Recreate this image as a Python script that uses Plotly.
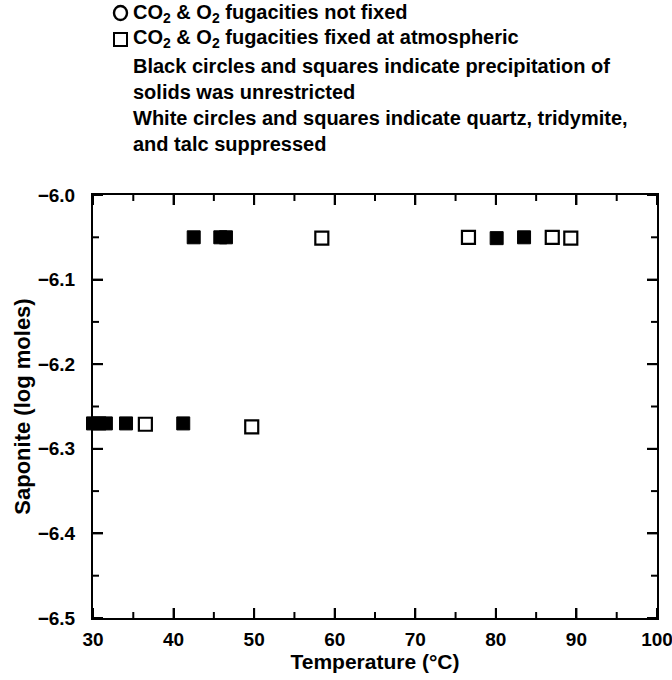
import plotly.graph_objects as go

# Saponite formed vs. temperature
filled_temp = [30.0, 30.8, 31.6, 34.1, 41.2, 42.5, 45.8, 46.5, 80.1, 83.5]
filled_sap = [-6.27, -6.27, -6.27, -6.27, -6.27, -6.05, -6.05, -6.05, -6.051, -6.05]
open_temp = [36.5, 49.7, 58.4, 76.6, 87.0, 89.3]
open_sap = [-6.271, -6.274, -6.051, -6.05, -6.05, -6.051]

x_ticks = [30, 40, 50, 60, 70, 80, 90, 100]
x_tick_text = ["30", "40", "50", "60", "70", "80", "90", "100"]
y_ticks = [-6.0, -6.1, -6.2, -6.3, -6.4, -6.5]
y_tick_text = ["\u22126.0", "\u22126.1", "\u22126.2", "\u22126.3", "\u22126.4", "\u22126.5"]

legend_lines = [
    "CO<sub>2</sub> & O<sub>2</sub> fugacities not fixed",
    "CO<sub>2</sub> & O<sub>2</sub> fugacities fixed at atmospheric",
    "Black circles and squares indicate precipitation of",
    "solids was unrestricted",
    "White circles and squares indicate quartz, tridymite,",
    "and talc suppressed",
]

FONT = "Liberation Sans, Arial, Helvetica, sans-serif"
L, R, T, B = 93, 15, 195, 62
W, H = 672, 680

fig = go.Figure(layout=dict(template="none"))
fig.add_trace(go.Scatter(
    x=filled_temp, y=filled_sap, mode="markers",
    marker=dict(symbol="square", size=13, color="black",
                line=dict(color="black", width=1)),
    showlegend=False, cliponaxis=False,
))
fig.add_trace(go.Scatter(
    x=open_temp, y=open_sap, mode="markers",
    marker=dict(symbol="square", size=13, color="white",
                line=dict(color="black", width=2.2)),
    showlegend=False, cliponaxis=False,
))

tick_font = dict(family=FONT, size=19, color="black", weight="bold")
title_font = dict(family=FONT, size=21, color="black", weight="bold")

xaxis = dict(
    range=[30, 100], tickmode="array", tickvals=x_ticks, ticktext=x_tick_text,
    showgrid=False, zeroline=False, showline=True, linecolor="black",
    linewidth=2, mirror="allticks", ticks="inside", ticklen=10, tickwidth=2,
    tickcolor="black", ticklabelstandoff=3,
    ticklabeloverflow="allow", tickfont=tick_font,
    title=dict(text="Temperature (\u00b0C)", standoff=5, font=title_font),
)
yaxis = dict(
    range=[-6.5, -6.0], tickmode="array", tickvals=y_ticks, ticktext=y_tick_text,
    showgrid=False, zeroline=False, showline=True, linecolor="black",
    linewidth=2, mirror="allticks", ticks="inside", ticklen=10, tickwidth=2,
    tickcolor="black", ticklabelstandoff=12,
    tickfont=tick_font,
    title=dict(text="Saponite (log moles)", standoff=1,
               font=dict(family=FONT, size=22, color="black", weight="bold")),
)

plot_w = W - L - R
plot_h = H - T - B


def to_paper(px, py):
    return (px - L) / plot_w, ((H - py) - B) / plot_h


# Key text above the plot
line_y = [13, 39, 66, 92, 118, 144]
annotations = []
for txt, yy in zip(legend_lines, line_y):
    ax, ay = to_paper(131, yy)
    annotations.append(dict(
        x=ax, y=ay, xref="paper", yref="paper", text=txt,
        showarrow=False, xanchor="left", yanchor="middle",
        font=dict(family=FONT, size=20, color="black", weight="bold"),
    ))

# Inward tick marks on all four sides (major at labelled values, minor halfway);
# lengths are given in pixels and converted to plot-area fractions.
MAJOR, MINOR = 10, 6
x_minor = [(a + b) / 2 for a, b in zip(x_ticks[:-1], x_ticks[1:])]
y_minor = [(a + b) / 2 for a, b in zip(y_ticks[:-1], y_ticks[1:])]
tick_line = dict(color="black", width=2)

shapes = []
for vals, ln in ((x_ticks, MAJOR), (x_minor, MINOR)):
    f = ln / plot_h
    for v in vals:
        for y0, y1 in ((0, f), (1, 1 - f)):
            shapes.append(dict(type="line", xref="x", x0=v, x1=v,
                               yref="paper", y0=y0, y1=y1,
                               line=tick_line, layer="above"))
for vals, ln in ((y_ticks, MAJOR), (y_minor, MINOR)):
    f = ln / plot_w
    for v in vals:
        for x0, x1 in ((0, f), (1, 1 - f)):
            shapes.append(dict(type="line", yref="y", y0=v, y1=v,
                               xref="paper", x0=x0, x1=x1,
                               line=tick_line, layer="above"))

# Key symbols: open circle and open square
cx0, cy0 = to_paper(114, 6)
cx1, cy1 = to_paper(127, 20)
sx0, sy0 = to_paper(114, 33)
sx1, sy1 = to_paper(127, 46)
shapes.append(dict(type="circle", xref="paper", yref="paper",
                   x0=cx0, y0=cy0, x1=cx1, y1=cy1,
                   line=dict(color="black", width=2.4), fillcolor="white"))
shapes.append(dict(type="rect", xref="paper", yref="paper",
                   x0=sx0, y0=sy0, x1=sx1, y1=sy1,
                   line=dict(color="black", width=2), fillcolor="white"))

fig.update_layout(
    width=W, height=H,
    margin=dict(l=L, r=R, t=T, b=B, autoexpand=False),
    paper_bgcolor="white", plot_bgcolor="white",
    showlegend=False, annotations=annotations, shapes=shapes,
    xaxis=xaxis, yaxis=yaxis,
)

fig.write_html("out.html")
